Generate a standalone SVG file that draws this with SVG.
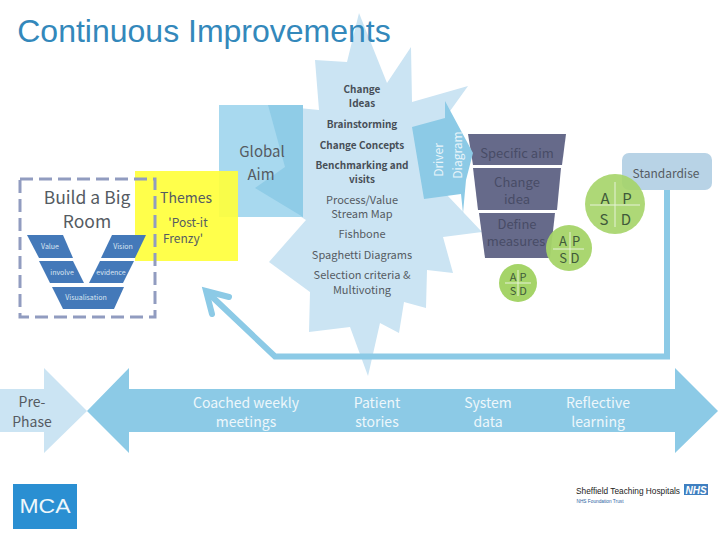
<svg xmlns="http://www.w3.org/2000/svg" width="720" height="540" viewBox="0 0 720 540">
<style>
text{font-family:"Noto Sans CJK JP","Liberation Sans",sans-serif;text-anchor:middle;fill:#555b62}
.l{font-family:"Liberation Sans",sans-serif}
.s{font-size:11px}.b{font-size:10px;font-weight:700;fill:#474f57}.m{font-size:14px}.w{fill:#eef7fb;font-size:14px}
.g{font-size:13px;fill:#484c66}.pd{stroke:#e6f2d8;fill:none}
.v{fill:#dbe6f2;font-size:7px}.a{fill:#3f5a3a}
</style>
<rect width="720" height="540" fill="#fff"/>
<g id="star"><polygon fill="#cbe4f3" points="359,13 387,83 411,47 412,102 468,86 440,125 447,195 482,232 443,237 453,273 427,270 426,308 404,302 399,333 380,323 368,376 350,327 309,332 310,292 269,262 306,220 255,188 285,167 268,105 319,110 315,60 347,62"/></g>
<text class="l" x="204" y="42" style="font-size:32px;fill:#3388bb">Continuous Improvements</text>
<g id="global-aim"><rect x="219" y="105" width="84" height="112" fill="#a8d9ef"/><polygon points="268,105 303,105 303,217 255,188 285,167" fill="#8fcce7"/><text x="262" y="157" style="font-size:15px">Global</text><text x="261" y="180" style="font-size:15px">Aim</text></g>
<g id="themes"><rect x="135" y="171" width="103" height="90" fill="#ffff3c" fill-opacity=".92"/><text x="186" y="203" class="m">Themes</text><text x="188" y="227" style="font-size:12px">'Post-it</text><text x="183" y="243" style="font-size:12px">Frenzy'</text></g>
<g id="build"><rect x="20" y="179" width="135" height="138" fill="none" stroke="#919cc0" stroke-width="3" stroke-dasharray="13 6"/><text x="87" y="204" style="font-size:17.5px">Build a Big</text><text x="87" y="228" style="font-size:17.5px">Room</text>
<g fill="#4479b9"><polygon points="27,235 63,235 73,258 39,258"/><polygon points="112,235 146,235 135,258 101,258"/><polygon points="39,261 73,261 84,283 50,283"/><polygon points="100,261 134,261 123,283 89,283"/><polygon points="52,287 124,287 114,309 63,309"/></g>
<text x="50" y="249" class="v">Value</text><text x="123" y="249" class="v">Vision</text><text x="62" y="275" class="v">involve</text><text x="111" y="275" class="v">evidence</text><text x="86" y="300" class="v">Visualisation</text></g>
<g id="change-text"><text x="362" y="93" class="b">Change</text><text x="362" y="107" class="b">Ideas</text><text x="362" y="128" class="b">Brainstorming</text><text x="362" y="149" class="b">Change Concepts</text><text x="362" y="169" class="b">Benchmarking and</text><text x="362" y="183" class="b">visits</text><text x="362" y="204" class="s">Process/Value</text><text x="362" y="218" class="s">Stream Map</text><text x="362" y="238" class="s">Fishbone</text><text x="362" y="259" class="s">Spaghetti Diagrams</text><text x="362" y="279" class="s">Selection criteria &amp;</text><text x="362" y="294" class="s">Multivoting</text></g>
<g id="connectors" fill="none" stroke="#8ccae6" stroke-width="6"><polyline points="667,190 667,356.5 275,356.5 206,291"/><polyline points="229,297 206,291 212,314" stroke-linecap="round"/></g>
<g id="funnel"><polygon points="468,134 566,134 562,165 473,165" fill="#666a8a"/><polygon points="473,168 561,168 557,210 478,210" fill="#666a8a"/><polygon points="479,213 555,213 550,258 485,258" fill="#666a8a"/><text x="517" y="158" class="g">Specific aim</text><text x="517" y="187" class="g">Change</text><text x="517" y="204" class="g">idea</text><text x="517" y="229" class="g">Define</text><text x="516" y="246" class="g">measures</text></g>
<g id="driver"><polygon points="412,127 445,118 445,101 473,153 466,180 463,213 461,194 424,199" fill="#8ccae6"/><text transform="translate(443,160) rotate(-90)" style="fill:#eaf5fa;font-size:12px">Driver</text><text transform="translate(462,155) rotate(-90)" style="fill:#eaf5fa;font-size:12px">Diagram</text></g>
<g id="standardise"><rect x="622" y="153" width="90" height="37" rx="7" fill="#b8d3e6"/><text x="666" y="178" style="font-size:12px">Standardise</text></g>
<g id="pdsa-large"><circle cx="615" cy="204" r="30" fill="#a5d468" fill-opacity=".9"/><path class="pd" d="M590,205H640M615,182V227"/><text x="605" y="204" class="a" style="font-size:15px">A</text><text x="627" y="204" class="a" style="font-size:15px">P</text><text x="604" y="225" class="a" style="font-size:15px">S</text><text x="626" y="225" class="a" style="font-size:15px">D</text></g>
<g id="pdsa-mid"><circle cx="569" cy="248" r="23" fill="#a5d468" fill-opacity=".95"/><path class="pd" d="M553,249H584M570,232V264"/><text x="563" y="246" class="a" style="font-size:13px">A</text><text x="576" y="246" class="a" style="font-size:13px">P</text><text x="563" y="263" class="a" style="font-size:13px">S</text><text x="575" y="263" class="a" style="font-size:13px">D</text></g>
<g id="pdsa-small"><circle cx="518" cy="283" r="19" fill="#a5d468"/><path class="pd" d="M505,283H531M518,270V296"/><text x="513" y="281" class="s a">A</text><text x="523" y="281" class="s a">P</text><text x="513" y="295" class="s a">S</text><text x="523" y="295" class="s a">D</text></g>
<g id="timeline"><polygon points="0,389 44,389 44,368 87,411 44,453 44,432 0,432" fill="#cbe4f3"/><polygon points="87,411 129,368 129,389 675,389 675,368 718,411 675,453 675,432 129,432 129,453" fill="#8ccae6"/>
<text x="32" y="407" class="m">Pre-</text><text x="32" y="427" class="m">Phase</text><text x="246" y="408" class="w">Coached weekly</text><text x="246" y="427" class="w">meetings</text><text x="377" y="408" class="w">Patient</text><text x="377" y="427" class="w">stories</text><text x="488" y="408" class="w">System</text><text x="488" y="427" class="w">data</text><text x="598" y="408" class="w">Reflective</text><text x="598" y="427" class="w">learning</text></g>
<g id="mca"><rect x="13" y="484" width="64" height="45" fill="#2a8fd2"/><text class="l" x="45" y="513" textLength="51" lengthAdjust="spacingAndGlyphs" style="font-size:21px;fill:#eef7fb">MCA</text></g>
<g id="nhs"><text class="l" x="628" y="494" textLength="104" lengthAdjust="spacingAndGlyphs" style="font-size:9.5px;fill:#222">Sheffield Teaching Hospitals</text><rect x="684" y="484" width="24" height="11" fill="#3f7fc0"/><text class="l" x="696" y="493.500" style="font-size:10px;font-weight:700;font-style:italic;fill:#fff">NHS</text><text class="l" x="600" y="502.500" textLength="47" lengthAdjust="spacingAndGlyphs" style="font-size:5px;fill:#2a5f9f">NHS Foundation Trust</text></g>
</svg>
